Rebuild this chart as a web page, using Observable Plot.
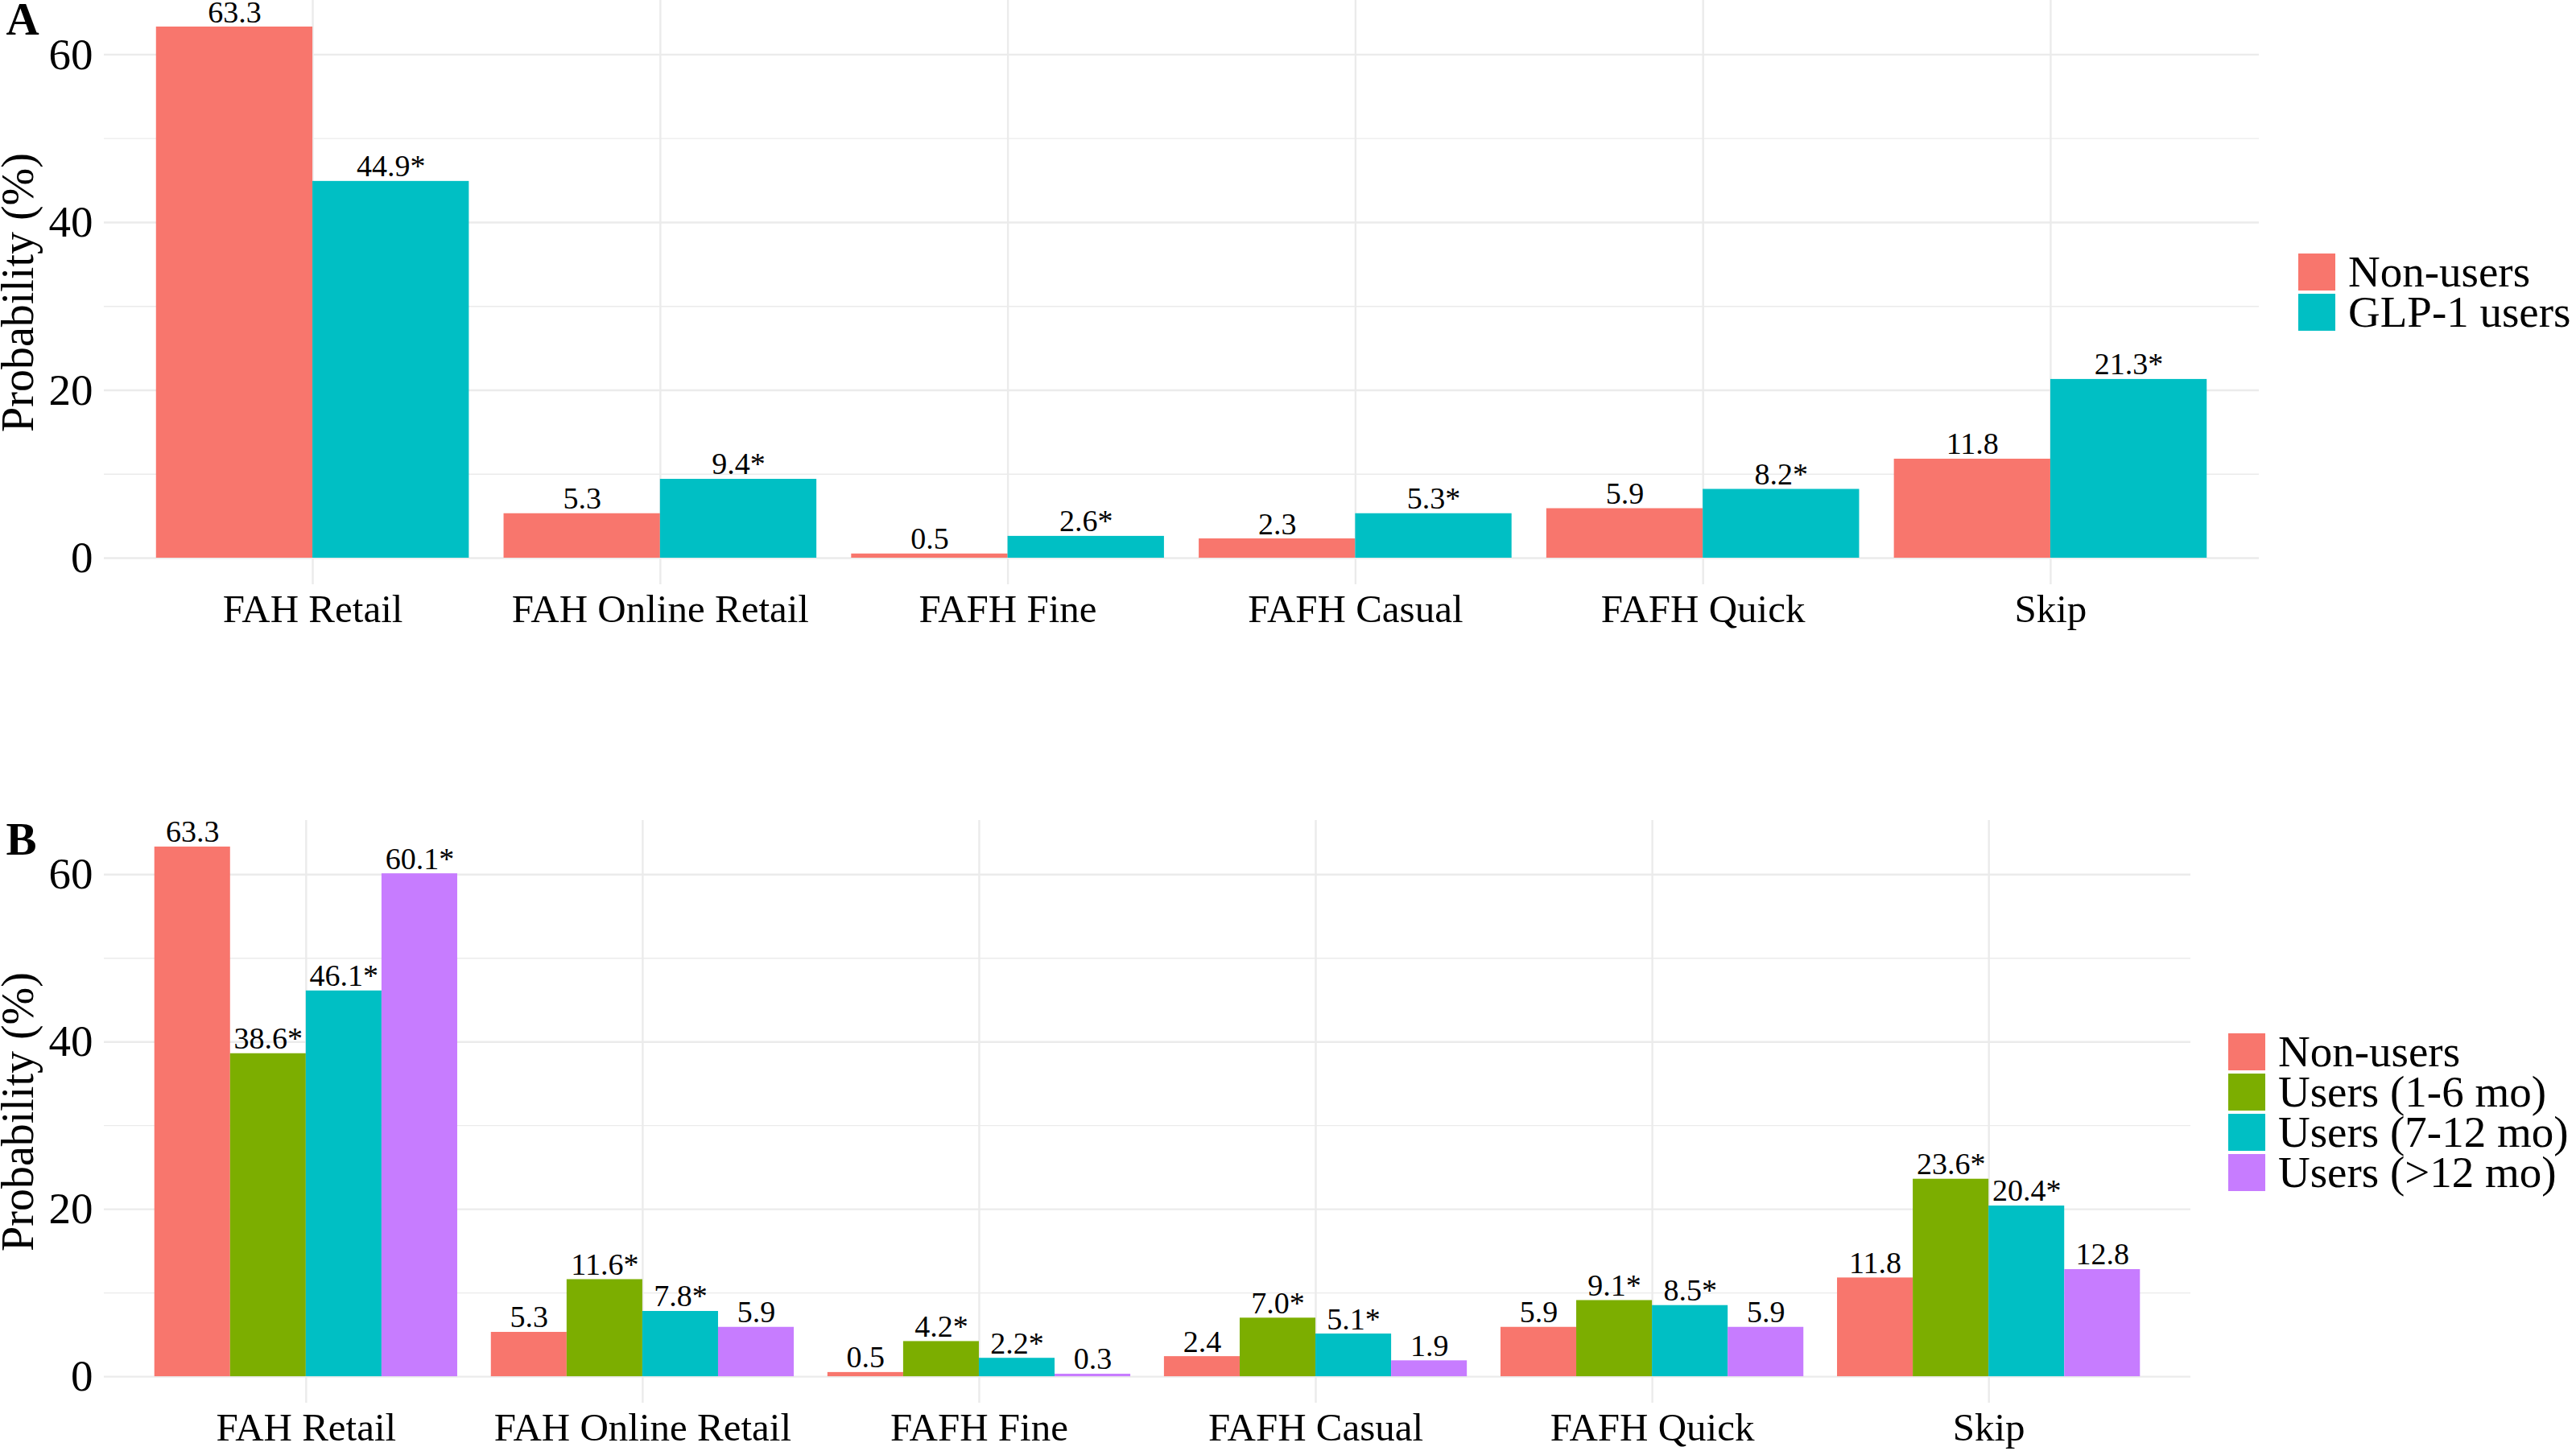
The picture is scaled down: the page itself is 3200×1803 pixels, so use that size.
<!DOCTYPE html>
<html>
<head>
<meta charset="utf-8">
<script src="https://cdn.jsdelivr.net/npm/d3@7"></script>
<script src="https://cdn.jsdelivr.net/npm/@observablehq/plot@0.6"></script>
<style>
  html, body { margin: 0; padding: 0; background: white; overflow: hidden; }
  #root { position: relative; width: 3200px; height: 1803px; background: white; font-family: 'Liberation Serif', 'Times New Roman', serif; }
  .panel { position: absolute; left: 0; }
  .legend { position: absolute; }
  .legend .row { display: flex; align-items: center; height: 46px; margin-bottom: 4px; }
  .legend .sw { width: 46px; height: 46px; margin-right: 16px; flex: none; }
  .legend .lab { font-size: 55px; line-height: 46px; white-space: nowrap; color: black; }
</style>
</head>
<body>
<div id="root"></div>
<script>
// ---- data ----
const categories = ["FAH Retail", "FAH Online Retail", "FAFH Fine", "FAFH Casual", "FAFH Quick", "Skip"];

const seriesA = ["Non-users", "GLP-1 users"];
const colorsA = ["#F8766D", "#00BFC4"];
const nonUsersA = [63.3, 5.3, 0.5, 2.3, 5.9, 11.8];
const nonUsersSigA = [false, false, false, false, false, false];
const glp1UsersA = [44.9, 9.4, 2.6, 5.3, 8.2, 21.3];
const glp1UsersSigA = [true, true, true, true, true, true];

const seriesB = ["Non-users", "Users (1-6 mo)", "Users (7-12 mo)", "Users (>12 mo)"];
const colorsB = ["#F8766D", "#7CAE00", "#00BFC4", "#C77CFF"];
const nonUsersB = [63.3, 5.3, 0.5, 2.4, 5.9, 11.8];
const nonUsersSigB = [false, false, false, false, false, false];
const users1to6 = [38.6, 11.6, 4.2, 7.0, 9.1, 23.6];
const users1to6Sig = [true, true, true, true, true, true];
const users7to12 = [46.1, 7.8, 2.2, 5.1, 8.5, 20.4];
const users7to12Sig = [true, true, true, true, true, true];
const usersOver12 = [60.1, 5.9, 0.3, 1.9, 5.9, 12.8];
const usersOver12Sig = [true, false, false, false, false, false];

const yTicks = [0, 20, 40, 60];
const yMinorTicks = [10, 30, 50];

// ---- build tables ----
function buildRows(series, values, sigs) {
  const rows = [];
  const n = series.length;
  series.forEach((s, si) => {
    categories.forEach((c, ci) => {
      rows.push({category: c, ci, series: s, si, n, value: values[si][ci],
                 label: values[si][ci].toFixed(1) + (sigs[si][ci] ? "*" : "")});
    });
  });
  return rows;
}
const rowsA = buildRows(seriesA, [nonUsersA, glp1UsersA], [nonUsersSigA, glp1UsersSigA]);
const rowsB = buildRows(seriesB, [nonUsersB, users1to6, users7to12, usersOver12],
                        [nonUsersSigB, users1to6Sig, users7to12Sig, usersOver12Sig]);

const dodge = 0.9;
const bx1 = d => d.ci + 1 - dodge / 2 + d.si * dodge / d.n;
const bx2 = d => bx1(d) + dodge / d.n;
const bxm = d => bx1(d) + dodge / d.n / 2;

const FONT = "'Liberation Serif', 'Times New Roman', serif";
const GRID = "#EBEBEB";

function panel({rows, series, colors, letter, marginTop, marginBottom, marginRight, panelHeight, tickPad}) {
  return Plot.plot({
    width: 3200,
    height: marginTop + panelHeight + marginBottom,
    marginLeft: 129,
    marginRight,
    marginTop,
    marginBottom,
    style: {fontFamily: FONT, background: "white", color: "black", overflow: "visible"},
    x: {type: "linear", domain: [0.4, categories.length + 0.6]},
    y: {domain: [-3.165, 66.465]},
    color: {domain: series, range: colors},
    marks: [
      Plot.gridY(yMinorTicks, {stroke: GRID, strokeOpacity: 1, strokeWidth: 1.4}),
      Plot.gridY(yTicks, {stroke: GRID, strokeOpacity: 1, strokeWidth: 2.4}),
      Plot.gridX(d3.range(1, categories.length + 1), {stroke: GRID, strokeOpacity: 1, strokeWidth: 2.4}),
      Plot.rectY(rows, {x1: bx1, x2: bx2, y1: 0, y2: "value", fill: "series"}),
      Plot.text(rows, {x: bxm, y: "value", text: "label", dy: -6, lineAnchor: "bottom",
                       fontSize: 38, fill: "black", fontFamily: FONT}),
      Plot.axisY(yTicks, {tickSize: 0, tickPadding: 14, fontSize: 55, label: null, fontFamily: FONT}),
      Plot.axisX(d3.range(1, categories.length + 1), {tickSize: 0, tickPadding: tickPad, fontSize: 49,
                  tickFormat: i => categories[i - 1], label: null, fontFamily: FONT}),
      Plot.text(["Probability (%)"], {frameAnchor: "left", rotate: -90, dx: -89, lineAnchor: "bottom",
                  textAnchor: "middle", fontSize: 56, fill: "black", fontFamily: FONT}),
      Plot.text([letter], {frameAnchor: "top-left", dx: -122, dy: 42, lineAnchor: "bottom",
                  textAnchor: "start", fontSize: 57, fontWeight: "bold", fill: "black", fontFamily: FONT})
    ]
  });
}

function legend(series, colors, left, top) {
  const div = document.createElement("div");
  div.className = "legend";
  div.style.left = left + "px";
  div.style.top = top + "px";
  series.forEach((s, i) => {
    const row = document.createElement("div");
    row.className = "row";
    const sw = document.createElement("div");
    sw.className = "sw";
    sw.style.background = colors[i];
    const lab = document.createElement("div");
    lab.className = "lab";
    lab.textContent = s;
    row.appendChild(sw);
    row.appendChild(lab);
    div.appendChild(row);
  });
  return div;
}

const root = document.getElementById("root");

const plotA = panel({rows: rowsA, series: seriesA, colors: colorsA, letter: "A",
  marginTop: 0, marginBottom: 80, marginRight: 3200 - 2806, panelHeight: 726, tickPad: 12});
plotA.classList.add("panel");
plotA.style.top = "0px";
root.appendChild(plotA);

const plotB = panel({rows: rowsB, series: seriesB, colors: colorsB, letter: "B",
  marginTop: 100, marginBottom: 60, marginRight: 3200 - 2721, panelHeight: 724, tickPad: 12});
plotB.classList.add("panel");
plotB.style.top = "919px";
root.appendChild(plotB);

root.appendChild(legend(seriesA, colorsA, 2855, 315));
root.appendChild(legend(seriesB, colorsB, 2768, 1284));
</script>
</body>
</html>
